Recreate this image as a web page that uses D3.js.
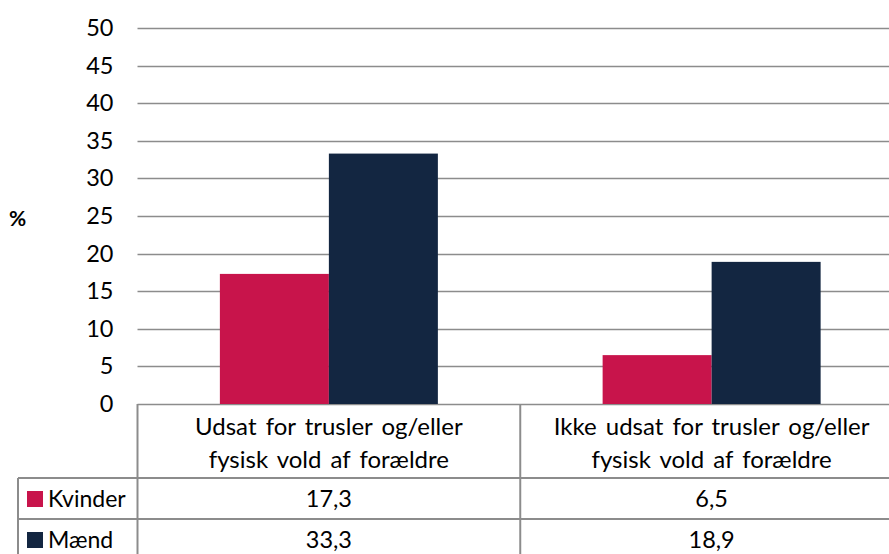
<!DOCTYPE html>
<html><head><meta charset="utf-8">
<script src="https://cdn.jsdelivr.net/npm/d3@7"></script>
<style>body{margin:0;background:#fff}svg{display:block}text{font-family:Lato,"Open Sans",sans-serif;fill:#000}</style>
</head><body><svg id="c" width="889" height="554"></svg>
<script>
const categories = [["Udsat for trusler og/eller","fysisk vold af forældre"],["Ikke udsat for trusler og/eller","fysisk vold af forældre"]];
const seriesNames = ["Kvinder","Mænd"];
const kvinder = [17.3, 6.5];
const maend = [33.3, 18.9];
const yTicks = [0,5,10,15,20,25,30,35,40,45,50];
const colors = ["#C8144B","#132641"];
const series = [kvinder, maend];

const FS = 23;
const svg = d3.select("#c");
const L = 137.5, R = 903, T = 28, B = 404;
const y = d3.scaleLinear().domain([0,50]).range([B,T]);
const x = d3.scaleBand().domain([0,1]).range([L,R]);
const xs = d3.scaleBand().domain([0,1]).range([0,218]);
const grid = "#8c8c8c";
const fmt = v => String(v).replace(".", ",");

svg.append("g").selectAll("line").data(yTicks).join("line")
  .attr("x1",L).attr("x2",R).attr("y1",d=>Math.round(y(d))+0.5).attr("y2",d=>Math.round(y(d))+0.5)
  .attr("stroke",grid).attr("stroke-width",1.5);

const yAxis = d3.axisLeft(y).tickValues(yTicks).tickSize(0).tickPadding(0);
const ga = svg.append("g").attr("transform",`translate(${L-24},0)`).call(yAxis);
ga.select(".domain").remove();
ga.selectAll("text").attr("font-size",FS+0.5).attr("font-family","Lato, sans-serif").attr("fill","#000");

svg.append("text").attr("x",9).attr("y",226).attr("font-size",21).attr("font-weight","bold").text("%");

series.forEach((s,si)=>{
  svg.append("g").selectAll("rect").data(s).join("rect")
    .attr("x",(d,i)=>x(i)+(x.bandwidth()-218)/2+xs(si))
    .attr("width",xs.bandwidth())
    .attr("y",d=>y(d)).attr("height",d=>B-y(d))
    .attr("fill",colors[si]);
});

const tl = svg.append("g").attr("stroke",grid).attr("stroke-width",2);
const rowY = [478, 519, 560];
tl.append("line").attr("x1",L).attr("x2",L).attr("y1",B).attr("y2",560);
tl.append("line").attr("x1",18).attr("x2",18).attr("y1",rowY[0]).attr("y2",560);
categories.forEach((c,i)=>{
  if(i>0) tl.append("line").attr("x1",x(i)).attr("x2",x(i)).attr("y1",B).attr("y2",560);
});
tl.append("line").attr("x1",18).attr("x2",R).attr("y1",rowY[0]).attr("y2",rowY[0]);
tl.append("line").attr("x1",18).attr("x2",R).attr("y1",rowY[1]).attr("y2",rowY[1]);

categories.forEach((c,i)=>{
  const cx = x(i)+x.bandwidth()/2;
  c.forEach((line,li)=>{
    svg.append("text").attr("x",cx).attr("y",435+li*33).attr("text-anchor","middle")
      .attr("font-size",24).attr("word-spacing",3).text(line);
  });
});

series.forEach((s,si)=>{
  const cy = rowY[si] + 21;
  svg.append("rect").attr("x",27).attr("y",cy-8).attr("width",16).attr("height",16).attr("fill",colors[si]);
  svg.append("text").attr("x",48).attr("y",cy+8).attr("font-size",FS).text(seriesNames[si]);
  s.forEach((v,i)=>{
    svg.append("text").attr("x",x(i)+x.bandwidth()/2).attr("y",cy+8).attr("text-anchor","middle").attr("font-size",FS+0.5).text(fmt(v));
  });
});
</script></body></html>
